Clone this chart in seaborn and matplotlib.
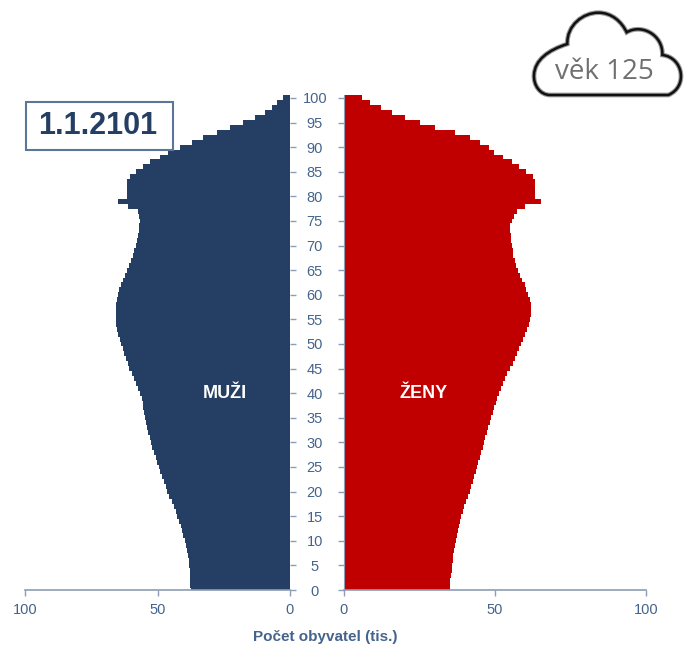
# -*- coding: utf-8 -*-
import numpy as np
import pandas as pd
import matplotlib.pyplot as plt
import seaborn as sns
from matplotlib.path import Path
from matplotlib.patches import PathPatch, Rectangle

# age 0..100, thousands of people
ages = list(range(101))
muzi = [37.5, 37.6, 37.7, 37.8, 37.9, 38.0, 38.3, 38.6, 38.9, 39.3,
        39.7, 40.2, 40.7, 41.3, 41.9, 42.5, 43.2, 43.9, 44.7, 45.5,
        46.3, 46.9, 47.6, 48.2, 48.9, 49.5, 50.1, 50.7, 51.3, 51.9,
        52.4, 52.9, 53.4, 53.9, 54.3, 54.7, 55.0, 55.3, 55.6, 56.0,
        56.6, 57.3, 58.2, 59.0, 59.8, 60.6, 61.3, 62.0, 62.6, 63.2,
        63.8, 64.3, 64.8, 65.2, 65.5, 65.7, 65.8, 65.8, 65.6, 65.3,
        64.9, 64.4, 63.8, 63.1, 62.3, 61.5, 60.7, 60.0, 59.4, 58.8,
        58.2, 57.7, 57.3, 57.0, 56.8, 56.7, 56.9, 57.4, 61.0, 65.0,
        61.5, 61.5, 61.5, 61.5, 60.4, 58.0, 55.5, 52.8, 49.0, 46.0,
        41.5, 37.0, 33.0, 27.5, 22.5, 17.7, 13.2, 9.4, 6.8, 5.0, 2.6]
zeny = [35.0, 35.1, 35.2, 35.4, 35.6, 35.8, 36.0, 36.2, 36.4, 36.7,
        37.0, 37.3, 37.6, 38.0, 38.4, 38.8, 39.3, 39.9, 40.5, 41.1,
        41.7, 42.2, 42.7, 43.1, 43.6, 44.0, 44.5, 45.0, 45.4, 45.9,
        46.4, 46.8, 47.3, 47.8, 48.2, 48.7, 49.2, 49.7, 50.2, 50.7,
        51.3, 51.9, 52.6, 53.3, 54.1, 55.0, 55.8, 56.5, 57.2, 57.9,
        58.6, 59.3, 60.0, 60.6, 61.2, 61.6, 61.8, 61.9, 61.8, 61.5,
        61.0, 60.4, 59.8, 59.1, 58.4, 57.6, 57.0, 56.5, 56.1, 55.8,
        55.6, 55.4, 55.2, 55.0, 55.0, 55.6, 56.3, 57.3, 60.0, 65.2,
        63.2, 63.2, 63.2, 63.2, 62.6, 60.3, 57.9, 55.6, 52.6, 49.7,
        48.0, 45.0, 41.7, 36.7, 30.1, 25.2, 20.2, 15.9, 12.3, 8.7, 6.0]
x_ticks = [0, 50, 100]
y_ticks = list(range(0, 101, 5))

NAVY = '#243f63'
RED = '#c00000'
TICK = '#44648c'
LINE = '#8c9db5'

sns.set_style('white')
plt.rcParams['font.family'] = ['Liberation Sans', 'DejaVu Sans']

W, H = 684, 645
df = pd.DataFrame({'vek': ages, 'muzi': muzi, 'zeny': zeny})

fig = plt.figure(figsize=(W / 100, H / 100), dpi=100)


def box(x0, x1, y0, y1):
    return [x0 / W, 1 - y1 / H, (x1 - x0) / W, (y1 - y0) / H]


ax_m = fig.add_axes(box(25, 290, 95.5, 590))
ax_z = fig.add_axes(box(344, 646, 95.5, 590))

sns.barplot(data=df, x='muzi', y='vek', orient='h', native_scale=True, width=1,
            color=NAVY, saturation=1, linewidth=0, ax=ax_m)
sns.barplot(data=df, x='zeny', y='vek', orient='h', native_scale=True, width=1,
            color=RED, saturation=1, linewidth=0, ax=ax_z)

for ax in (ax_m, ax_z):
    ax.set_ylim(0, 100.5)
    ax.set_xlabel('')
    ax.set_ylabel('')
    ax.set_xticks(x_ticks)
    ax.set_yticks(y_ticks)
    ax.patch.set_alpha(0)
    for s in ax.spines.values():
        s.set_visible(False)
    ax.spines['bottom'].set_visible(True)
    ax.spines['bottom'].set_color(LINE)
    ax.spines['bottom'].set_linewidth(1.2)
    ax.tick_params(axis='x', bottom=True, length=4, width=1, color=LINE, pad=5,
                   labelsize=10.5, labelcolor=TICK)
    for p in ax.patches:
        p.set_antialiased(False)

ax_m.set_xlim(100, 0)
ax_z.set_xlim(0, 100)

ax_m.yaxis.tick_right()
ax_m.tick_params(axis='y', right=True, left=False, labelright=False, labelleft=False,
                 length=4, width=1, color=LINE)

ax_z.spines['left'].set_visible(True)
ax_z.spines['left'].set_color(LINE)
ax_z.tick_params(axis='y', left=True, length=4, width=1, color=LINE, pad=17,
                 labelsize=10.5, labelcolor=TICK)
for lab in ax_z.get_yticklabels():
    lab.set_ha('center')

# overlay in picture pixels for the texts, date box and cloud
ov = fig.add_axes([0, 0, 1, 1])
ov.set_xlim(0, W)
ov.set_ylim(H, 0)
ov.axis('off')

ov.text(225, 393, 'MUŽI', color='white', weight='bold', fontsize=13, ha='center', va='center')
ov.text(424, 394, 'ŽENY', color='white', weight='bold', fontsize=13, ha='center', va='center')
ov.text(325, 637, 'Počet obyvatel (tis.)', color=TICK, weight='bold', fontsize=11,
        ha='center', va='center')

ov.add_patch(Rectangle((25.5, 102), 147, 48, fc='white', ec='#5b7699', lw=1.5))
ov.text(98, 126, '1.1.2101', color=NAVY, weight='bold', fontsize=22, ha='center', va='center')

# cloud outline, in zoomed-crop units
pts = [(90, 285), (60, 285), (40, 255), (42, 225),
       (44, 180), (85, 150), (142, 132),
       (140, 75), (190, 38), (235, 38),
       (275, 38), (305, 65), (320, 97),
       (365, 70), (430, 105), (427, 165),
       (490, 172), (505, 260), (445, 285),
       (90, 285)]
codes = [Path.MOVETO] + [Path.CURVE4] * 18 + [Path.LINETO]
cloud = Path([(520 + x / 3, y / 3) for x, y in pts], codes)
ov.add_patch(PathPatch(cloud, fc='white', ec='#9a9a9a', lw=3.4, clip_on=False))
ov.add_patch(PathPatch(cloud, fc='none', ec='#111111', lw=1.8, clip_on=False))
ov.text(604, 72, 'věk 125', color='#707070', fontsize=20, ha='center', va='center',
        family=['Open Sans', 'DejaVu Sans'])

plt.savefig('out.png', dpi=100)
